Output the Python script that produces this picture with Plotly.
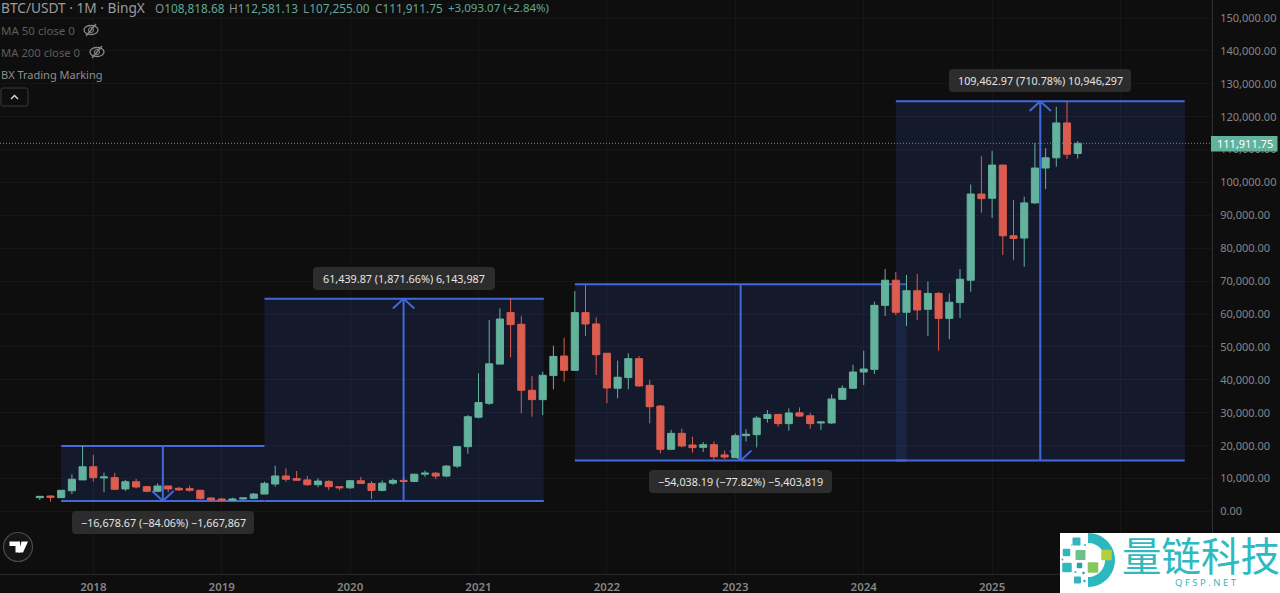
import math
import plotly.graph_objects as go

# monthly candles, Aug 2017 .. Sep 2025, index 0 = Jan 2018
first_idx = -5
opens = [4200, 4700, 4200, 6300, 9600, 13600, 10200, 10300, 6850, 9050, 7550, 6150, 7750, 7050, 6950, 6450, 4100,
         3800, 3400, 3800, 4000, 5300, 8350, 10800, 10000, 9600, 8150, 9150, 7541,
         7195, 9352, 8523, 6410, 8620, 9448, 9138, 11335, 11649, 10776, 13791, 19700,
         28650, 32900, 44800, 60450, 56900, 36850, 34000, 41300, 47250, 42900, 60450, 57000,
         48100, 37450, 40700, 46450, 38350, 32050, 18900, 23750, 20200, 19500, 20300, 17200,
         16350, 23050, 23350, 28300, 29500, 26700, 30000, 29100, 26900, 26900, 34100, 37450,
         42400, 43200, 62650, 70300, 60550, 67100, 61450, 66300, 58700, 63500, 70300, 96500,
         95200, 105300, 83800, 83100, 93800, 104400, 107500, 118100, 108818.68]
highs = [4750, 4950, 6450, 11300, 19900, 17200, 11800, 11700, 9600, 9900, 7750, 8550, 7800, 7500, 7850, 6550, 4300,
         4150, 4200, 4150, 5600, 9050, 13900, 13100, 12300, 10800, 10100, 9500, 7750,
         9578, 10500, 9188, 9460, 10067, 10380, 11444, 12468, 12050, 14100, 19863, 29300,
         42000, 58200, 61750, 64800, 59400, 41200, 42500, 50400, 52800, 67000, 68850, 59000,
         48100, 45850, 48100, 47250, 40000, 32400, 24800, 25150, 22700, 21100, 21300, 18500,
         23750, 25000, 29000, 30850, 29700, 31350, 31650, 30000, 27300, 35600, 38350, 44600,
         48900, 63800, 73700, 72800, 71900, 72200, 69900, 66700, 66300, 73700, 99400, 108000,
         109600, 105300, 94700, 95700, 112000, 110400, 123000, 124700, 112581.13]
lows = [3500, 3000, 4100, 5300, 9600, 9050, 5850, 6550, 6250, 7050, 5850, 5850, 5850, 6300, 6000, 3650, 3200,
        3350, 3350, 3650, 4000, 5300, 7550, 9050, 9300, 7750, 7350, 6500, 6412,
        6871, 8445, 3782, 6150, 8117, 8833, 8900, 10518, 9825, 10376, 13195, 17572,
        28300, 32400, 44800, 46850, 29850, 28800, 29300, 37150, 39450, 42900, 53350, 41500,
        32900, 34400, 37150, 38000, 26800, 17700, 18700, 19500, 17900, 18100, 15650, 16000,
        16250, 21300, 19500, 27000, 25800, 24550, 28800, 25150, 24800, 26600, 33900, 37200,
        38450, 41800, 59400, 59700, 56400, 58200, 53300, 48900, 52400, 58800, 66800, 90800,
        89200, 78000, 76500, 74400, 93500, 98000, 104800, 107200, 107255.00]
closes = [4600, 4300, 6450, 9800, 13600, 10300, 10500, 6750, 9050, 7450, 6150, 7750, 6850, 6550, 6450, 3900, 3500,
          3400, 3800, 4100, 5300, 8550, 10800, 9800, 9500, 8150, 9250, 7541, 7195,
          9352, 8523, 6410, 8620, 9448, 9138, 11335, 11649, 10776, 13791, 19700, 28800,
          33100, 44900, 58500, 56800, 36850, 34000, 41400, 47150, 42900, 60450, 57000, 47650,
          37550, 40800, 46450, 38150, 31850, 18900, 23750, 19900, 19400, 20300, 16650, 16550,
          23050, 23500, 28400, 29500, 26700, 29950, 29000, 26700, 27200, 34200, 37450, 42400,
          43300, 62650, 70300, 60550, 67100, 61250, 66300, 58700, 63600, 70600, 96500, 95100,
          105300, 83800, 83000, 93800, 104400, 107500, 118100, 108600, 111911.75]
months = [first_idx + i for i in range(len(opens))]

year_ticks = [0, 12, 24, 36, 48, 60, 72, 84, 96]
year_labels = ["2018", "2019", "2020", "2021", "2022", "2023", "2024", "2025", "2026"]
price_ticks = list(range(0, 160000, 10000))

# measured ranges: x0, x1, bottom, top
range_boxes = [(-3, 16, 3200, 19900), (16, 42.1, 3200, 64700), (45, 76, 15500, 69100), (75, 102, 15500, 124700)]
# arrow position, from, to
arrows = [(6.5, 19900, 3200), (29, 3200, 64700), (60.5, 69100, 15500), (88.5, 15500, 124700)]
last_price = 111911.75

BG = "#0e0e0e"
UP = "#62b29c"
DOWN = "#dc5d50"
BLUE = "#4169dc"

PLOT_W = 1212
PLOT_H = 574


def px(x):
    return x / PLOT_W


def py(y):
    return 1 - y / PLOT_H


def round_box(x0, y0, x1, y1, r=4):
    return ("M{},{} L{},{} Q{},{} {},{} L{},{} Q{},{} {},{} L{},{} Q{},{} {},{} L{},{} Q{},{} {},{} Z").format(
        px(x0 + r), py(y0), px(x1 - r), py(y0), px(x1), py(y0), px(x1), py(y0 + r),
        px(x1), py(y1 - r), px(x1), py(y1), px(x1 - r), py(y1),
        px(x0 + r), py(y1), px(x0), py(y1), px(x0), py(y1 - r),
        px(x0), py(y0 + r), px(x0), py(y0), px(x0 + r), py(y0))


def poly(points):
    return "M" + " L".join("{},{}".format(px(a), py(b)) for a, b in points) + " Z"


shapes = []
for x0, x1, lo, hi in range_boxes:
    shapes.append(dict(type="rect", x0=x0, x1=x1, y0=lo, y1=hi, xref="x", yref="y", layer="below",
                       fillcolor="rgba(38,58,120,0.29)", line_width=0))
    for level in (lo, hi):
        shapes.append(dict(type="line", x0=x0, x1=x1, y0=level, y1=level, xref="x", yref="y", layer="below",
                           line=dict(color=BLUE, width=2)))

for ax, start, end in arrows:
    shapes.append(dict(type="line", x0=ax, x1=ax, y0=start, y1=end, xref="x", yref="y", layer="below",
                       line=dict(color=BLUE, width=2)))
    back = 3000 if end < start else -3000
    for side in (-1, 1):
        shapes.append(dict(type="line", x0=ax + side, x1=ax, y0=end + back, y1=end, xref="x", yref="y", layer="below",
                           line=dict(color=BLUE, width=2)))

# last price dotted line
shapes.append(dict(type="line", x0=0, x1=1, xref="paper", y0=last_price, y1=last_price, yref="y", layer="above",
                   line=dict(color="#6d8f85", width=1, dash="1px,2px")))

# measure tooltips
tips = [(72, 511, 254, 534, "\u221216,678.67 (\u221284.06%) \u22121,667,867"),
        (313, 267, 495, 290, "61,439.87 (1,871.66%) 6,143,987"),
        (649, 470, 832, 493, "\u221254,038.19 (\u221277.82%) \u22125,403,819"),
        (949, 69, 1131, 92, "109,462.97 (710.78%) 10,946,297")]
for x0, y0, x1, y1, _ in tips:
    shapes.append(dict(type="path", path=round_box(x0, y0, x1, y1), xref="paper", yref="paper",
                       fillcolor="#2c2c2c", line_width=0, layer="above"))

# collapse button
shapes.append(dict(type="path", path=round_box(1, 88, 28, 106, 2), xref="paper", yref="paper",
                   fillcolor=BG, line=dict(color="#3a3a3a", width=1), layer="above"))
shapes.append(dict(type="path", path="M{},{} L{},{} L{},{}".format(px(11), py(99), px(14.5), py(95.5), px(18), py(99)),
                   xref="paper", yref="paper", line=dict(color="#d0d0d0", width=1.5), layer="above"))

# hidden-eye icons
for cx, cy in ((91, 30), (97, 52)):
    shapes.append(dict(type="circle", x0=px(cx - 7), x1=px(cx + 7), y0=py(cy - 4.5), y1=py(cy + 4.5),
                       xref="paper", yref="paper", line=dict(color="#8a8a8a", width=1.3), layer="above"))
    shapes.append(dict(type="line", x0=px(cx - 5), x1=px(cx + 5), y0=py(cy + 6), y1=py(cy - 6),
                       xref="paper", yref="paper", line=dict(color="#8a8a8a", width=1.3), layer="above"))
    shapes.append(dict(type="circle", x0=px(cx - 2.5), x1=px(cx + 2.5), y0=py(cy - 2.5), y1=py(cy + 2.5),
                       xref="paper", yref="paper", line=dict(color="#8a8a8a", width=1), layer="above"))

# TradingView badge
shapes.append(dict(type="circle", x0=px(3.5), x1=px(32.5), y0=py(532.5), y1=py(561.5), xref="paper", yref="paper",
                   fillcolor="#151515", line=dict(color="#4a4a4a", width=1.2), layer="above"))
for pts in ([(9.5, 541.5), (20, 541.5), (20, 552.5), (15.5, 552.5), (15.5, 546), (9.5, 546)],
            [(21.5, 541.5), (28, 541.5), (23, 552.5), (18.5, 552.5)]):
    shapes.append(dict(type="path", path=poly(pts), xref="paper", yref="paper", fillcolor="#ffffff",
                       line_width=0, layer="above"))

# watermark logo
shapes.append(dict(type="rect", x0=px(1060), x1=px(1280), y0=py(533), y1=py(593), xref="paper", yref="paper",
                   fillcolor="#ffffff", line_width=0, layer="above"))
outer = [(1088 + 27 * math.cos(math.radians(a)), 560 + 27 * math.sin(math.radians(a))) for a in range(-90, 91, 6)]
inner = [(1088 + 17 * math.cos(math.radians(a)), 560 + 17 * math.sin(math.radians(a))) for a in range(90, -91, -6)]
shapes.append(dict(type="path", path=poly(outer + inner), xref="paper", yref="paper", fillcolor="#2db8c0",
                   line_width=0, layer="above"))
squares = [(1076.5, 541.5, 8, "#36b3bf"), (1066.5, 552.5, 7.5, "#2fb7bd"), (1080.5, 555, 10, "#6cc08a"),
           (1106.5, 555, 10.5, "#b5cf3a"), (1067, 567.5, 9.5, "#2fb9b8"), (1079.5, 565.5, 5.5, "#2a9fb0"),
           (1093, 567.5, 10.5, "#86c760"), (1077.5, 580, 7, "#36b3bf"), (1072, 545, 2, "#8fd3d8"),
           (1062.5, 559.5, 2, "#2fb7bd"), (1083.5, 573, 2.5, "#2a9fb0"), (1075.5, 572, 2, "#2fb7bd"),
           (1084.5, 581, 2.5, "#2fb7bd"), (1085, 545, 2, "#2fb7bd")]
for cx, cy, size, col in squares:
    shapes.append(dict(type="path", path=round_box(cx - size / 2, cy - size / 2, cx + size / 2, cy + size / 2, 1),
                       xref="paper", yref="paper", fillcolor=col, line_width=0, layer="above"))

TEXT_FONT = "Noto Sans"


def label(x, y, text, size=12, color="#9a9a9a", anchor="left", font=TEXT_FONT):
    return dict(x=px(x), y=py(y), xref="paper", yref="paper", text=text, showarrow=False, xanchor=anchor,
                yanchor="middle", align=anchor, font=dict(family=font, size=size, color=color),
                borderpad=0, borderwidth=0)


def ohlc(tag, value):
    return "<span style='color:#8a8a8a'>{}</span>{}".format(tag, value)


annotations = [
    label(1, 8, "BTC/USDT \u00b7 1M \u00b7 BingX", 13.7, "#9c9c9c"),
    label(155, 8, ohlc("O", "108,818.68"), 11.8, "#61a896"),
    label(229, 8, ohlc("H", "112,581.13"), 11.8, "#61a896"),
    label(303, 8, ohlc("L", "107,255.00"), 11.8, "#61a896"),
    label(375, 8, ohlc("C", "111,911.75"), 11.8, "#61a896"),
    label(448, 8, "+3,093.07 (+2.84%)", 11.5, "#61a896"),
    label(1, 30, "MA 50 close 0", 11.5, "#5d5d5d"),
    label(1, 52, "MA 200 close 0", 11.3, "#5d5d5d"),
    label(1, 74, "BX Trading Marking", 11, "#8f8f8f"),
    label(1244.5, 144, "111,911.75", 11, "#ffffff", "center"),
    label(1201, 553, "\u91cf\u94fe\u79d1\u6280", 39.5, "#2fb9c0", "center", "Noto Sans CJK SC"),
    label(1206, 582.5, "Q F S P . N E T", 9.5, "#2fb9c0", "center"),
]
for x0, y0, x1, y1, text in tips:
    annotations.append(label((x0 + x1) / 2, (y0 + y1) / 2, text, 10.8, "#e4e4e4", "center"))

# price tag sits over the axis labels
shapes.append(dict(type="rect", x0=px(1211), x1=px(1277.5), y0=py(136), y1=py(151.5), xref="paper", yref="paper",
                   fillcolor=UP, line_width=0, layer="above"))

fig = go.Figure(go.Candlestick(
    x=months, open=opens, high=highs, low=lows, close=closes,
    increasing=dict(line=dict(color=UP, width=1), fillcolor=UP),
    decreasing=dict(line=dict(color=DOWN, width=1), fillcolor=DOWN),
    whiskerwidth=0, hoverinfo="skip", showlegend=False,
))

fig.update_layout(
    width=1280, height=593,
    margin=dict(l=0, r=68, t=0, b=19, pad=0),
    paper_bgcolor=BG, plot_bgcolor=BG,
    boxgap=0.05,
    shapes=shapes, annotations=annotations,
    showlegend=False,
    font=dict(family=TEXT_FONT, color="#8a8a8a", size=11.5),
    xaxis=dict(range=[-8.72, 104.55], tickmode="array", tickvals=year_ticks, ticktext=year_labels,
               rangeslider=dict(visible=False), showgrid=True, gridcolor="rgba(255,255,255,0.035)",
               zeroline=False, showline=True, linecolor="#2a2a2a", linewidth=1, ticks="",
               tickfont=dict(size=11.5, color="#858585", family=TEXT_FONT, weight=600), ticklabelstandoff=2),
    yaxis=dict(range=[-19000, 155470], side="right", tickmode="array", tickvals=price_ticks, tickformat=",.2f",
               showgrid=True, gridcolor="rgba(255,255,255,0.035)", zeroline=False,
               showline=True, linecolor="#333333", linewidth=1, ticks="outside", ticklen=5, tickcolor=BG,
               tickfont=dict(size=11, color="#868686", family=TEXT_FONT)),
)

# the page's default body margin would push the chart 8px in and clip it
fig.write_html("out.html", config={"displayModeBar": False},
               post_script="document.body.style.margin='0';document.body.style.overflow='hidden';")
